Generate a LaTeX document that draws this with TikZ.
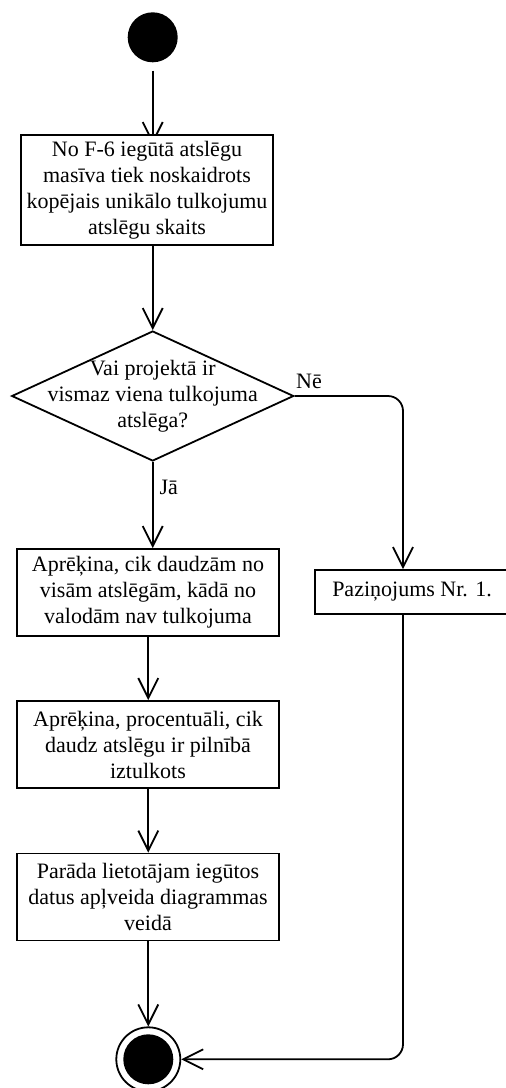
\documentclass[tikz,border=0pt]{standalone}
\usepackage{fontspec}
\setmainfont{Liberation Serif}
\usetikzlibrary{shapes.geometric,arrows.meta,backgrounds}

\begin{document}
\begin{tikzpicture}[x=1pt,y=-1pt,
  every node/.style={font=\fontsize{22}{26}\selectfont, text=black},
  actbox/.style={draw, line width=1.8pt, fill=white, align=center,
                 inner sep=0pt},
  decision/.style={draw, diamond, line width=1.8pt, fill=white,
                   minimum width=282pt, minimum height=130pt, inner sep=0pt},
  initnode/.style={circle, fill=black, minimum size=50pt, inner sep=0pt},
  finalnode/.style={circle, draw, line width=1.8pt, fill=white,
                    minimum size=64pt, inner sep=0pt,
                    path picture={\fill[black] (path picture bounding box.center) circle (25pt);}},
  flow/.style={line width=1.8pt,
               -{Straight Barb[length=20pt,width=20pt,line width=1.8pt]}},
  guard/.style={inner sep=0pt}
]
\useasboundingbox (0,0) rectangle (506,1088);

% activity nodes
\node[initnode] (start) at (152.7,37.3) {};
\node[actbox, minimum width=252pt, minimum height=110pt] (b1) at (147,190)
  {No F-6 iegūtā atslēgu\\masīva tiek noskaidrots\\kopējais unikālo tulkojumu\\atslēgu skaits};
\node[decision, label={[align=center]center:Vai projektā ir\\vismaz viena tulkojuma\\atslēga?}]
  (dec) at (152.7,396) {};
\node[actbox, minimum width=243pt, minimum height=44pt] (pz) at (436.5,592)
  {\hspace*{-49pt}Paziņojums Nr. 1.};
\node[actbox, minimum width=262pt, minimum height=87pt] (b3) at (148,744.5)
  {Aprēķina, procentuāli, cik\\daudz atslēgu ir pilnībā\\iztulkots};
\node[actbox, minimum width=262pt, minimum height=87pt] (b2) at (148,592.5)
  {Aprēķina, cik daudzām no\\visām atslēgām, kādā no\\valodām nav tulkojuma};
\node[actbox, minimum width=262pt, minimum height=87pt] (b4) at (148,897)
  {Parāda lietotājam iegūtos\\datus apļveida diagrammas\\veidā};
\node[finalnode] (end) at (148.3,1059.3) {};

% bend point of the "Nē" branch
\coordinate (nturn) at (403,396);

\begin{scope}[on background layer]
  \draw[flow, shorten <=8pt, shorten >=-10pt] (start) -- (start |- b1.north);
\end{scope}
\draw[flow] (b1.south -| dec.north) -- (dec.north);
\draw[flow] (dec.south) -- node[guard, right=6pt, pos=0.3] (ja) {Jā} (dec.south |- b2.north);
\draw[flow, rounded corners=15pt] (dec.east) -- (nturn) -- (nturn |- pz.north);
\node[guard] (ne) at (309,381) {Nē};
\draw[flow] (b2.south -| end) -- (b3.north -| end);
\draw[flow] (b3.south -| end) -- (b4.north -| end);
\draw[flow] (b4.south -| end) -- (end.north);
\draw[flow, rounded corners=15pt] (pz.south -| nturn) -- (nturn |- end) -- (end.east);
\end{tikzpicture}
\end{document}
